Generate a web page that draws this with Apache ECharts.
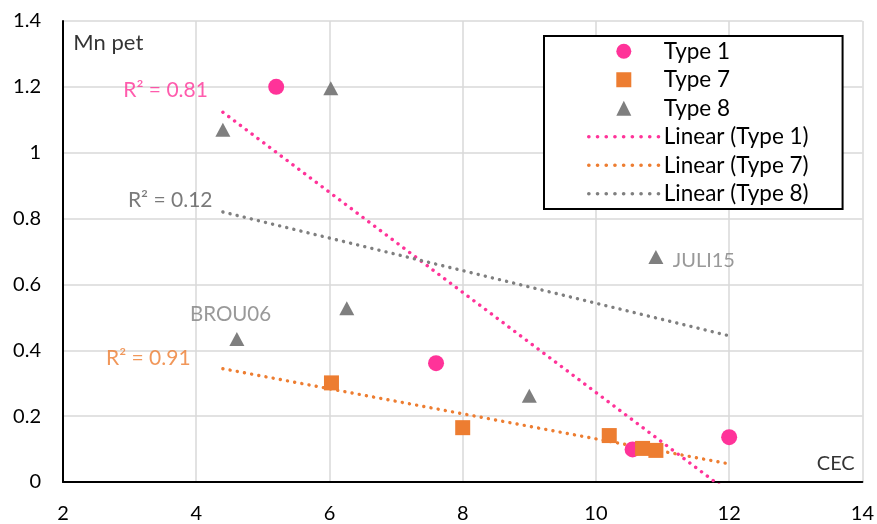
<!DOCTYPE html>
<html><head><meta charset="utf-8">
<script src="https://cdn.jsdelivr.net/npm/echarts@6/dist/echarts.min.js"></script>
<style>html,body{margin:0;padding:0;background:#fff}#c{width:877px;height:524px}</style>
</head><body><div id="c"></div>
<script>
// Data
const type1 = [[5.2, 1.2], [7.6, 0.361], [10.55, 0.099], [12, 0.136]];
const type7 = [[6.03, 0.301], [8, 0.165], [10.2, 0.141], [10.7, 0.102], [10.9, 0.096]];
const type8 = [[4.4, 1.07], [6.02, 1.196], [4.61, 0.434], [6.26, 0.528], [9.0, 0.262], [10.9, 0.683]];
// Trendline endpoints
const trend1 = [[4.4, 1.123], [12, -0.032]];
const trend7 = [[4.4, 0.344], [12, 0.055]];
const trend8 = [[4.4, 0.82], [12, 0.444]];
// Text annotations: [text, x, y, color, fontSize]
const annotations = [
  ['R² = 0.81', 3.54, 1.19, '#FF3399', 21],
  ['R² = 0.12', 3.61, 0.855, '#595959', 21],
  ['R² = 0.91', 3.28, 0.377, '#ED7D31', 21],
  ['BROU06', 4.515, 0.508, '#808080', 20.5],
  ['JULI15', 11.62, 0.673, '#808080', 20],
  ['Mn pet', 2.68, 1.333, '#000000', 22],
  ['CEC', 13.6, 0.055, '#000000', 20]
];
const xTicks = {min: 2, max: 14, interval: 2};
const yTicks = {min: 0, max: 1.4, interval: 0.2};
const legendNames = ['Type 1', 'Type 7', 'Type 8', 'Linear (Type 1)', 'Linear (Type 7)', 'Linear (Type 8)'];

const FONT = 'Lato';
const pink = '#FF3399', orange = '#ED7D31', gray = '#7F7F7F';
const legendColors = [pink, orange, gray, pink, orange, gray];
const dots = (c) => ({color: c, width: 3.4, type: [0.1, 7.2], cap: 'round'});
const legendIcons = ['circle', 'path://M0,0L1,0L1,1L0,1Z', 'path://M0.5,0L1,1L0,1Z', null, null, null];

const chart = echarts.init(document.getElementById('c'));
chart.setOption({
  animation: false,
  textStyle: {fontFamily: FONT},
  grid: {left: 63, right: 14, top: 21, bottom: 41},
  xAxis: {
    type: 'value', min: xTicks.min, max: xTicks.max, interval: xTicks.interval,
    axisLine: {show: true, onZero: false, lineStyle: {color: '#000', width: 2}},
    axisTick: {show: false},
    axisLabel: {color: '#000', fontSize: 20, margin: 22, fontFamily: FONT},
    splitLine: {show: true, lineStyle: {color: '#D9D9D9', width: 1.5}}
  },
  yAxis: {
    type: 'value', min: yTicks.min, max: yTicks.max, interval: yTicks.interval,
    axisLine: {show: true, onZero: false, lineStyle: {color: '#000', width: 2}},
    axisTick: {show: false},
    axisLabel: {color: '#000', fontSize: 20, margin: 22, fontFamily: FONT},
    splitLine: {show: true, lineStyle: {color: '#D9D9D9', width: 1.5}}
  },
  legend: {
    orient: 'vertical', left: 544, top: 36,
    padding: [1, 34, 1, 43],
    itemGap: 0, itemWidth: 70, itemHeight: 15,
    symbolKeepAspect: true,
    borderColor: '#000', borderWidth: 2, backgroundColor: '#fff',
    textStyle: {fontSize: 22.5, color: '#000', lineHeight: 28.5, fontFamily: FONT},
    data: legendNames.map((n, i) => legendIcons[i]
      ? {name: n, icon: legendIcons[i], itemStyle: {color: legendColors[i], opacity: 1}}
      : {name: n, itemStyle: {opacity: 0}, lineStyle: {color: legendColors[i], width: 3.6, type: [0.1, 8.6], cap: 'round', opacity: 1}})
  },
  series: [
    {name: 'Linear (Type 1)', type: 'line', data: trend1, symbol: 'none', lineStyle: dots(pink), itemStyle: {color: pink}, z: 2, silent: true},
    {name: 'Linear (Type 7)', type: 'line', data: trend7, symbol: 'none', lineStyle: dots(orange), itemStyle: {color: orange}, z: 2, silent: true},
    {name: 'Linear (Type 8)', type: 'line', data: trend8, symbol: 'none', lineStyle: dots(gray), itemStyle: {color: gray}, z: 2, silent: true},
    {name: 'Type 1', type: 'scatter', data: type1, symbol: 'circle', symbolSize: 16, itemStyle: {color: pink, opacity: 1}, z: 3},
    {name: 'Type 7', type: 'scatter', data: type7, symbol: 'rect', symbolSize: 15, itemStyle: {color: orange, opacity: 1}, z: 3},
    {name: 'Type 8', type: 'scatter', data: type8, symbol: 'triangle', symbolSize: [15, 14], itemStyle: {color: gray, opacity: 1}, z: 3},
    {name: 'annotations', type: 'scatter', symbolSize: 0.01, silent: true, z: 4,
     data: annotations.map(a => ({value: [a[1], a[2]], label: {show: true, position: 'inside', formatter: a[0], color: a[3], fontSize: a[4], fontFamily: FONT}})),
     itemStyle: {color: 'transparent'}}
  ]
});
</script></body></html>
